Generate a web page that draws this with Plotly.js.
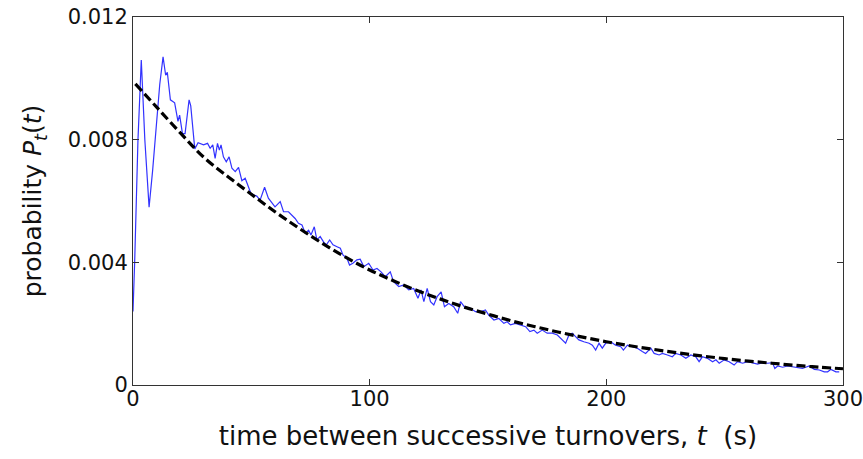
<!DOCTYPE html>
<html>
<head>
<meta charset="utf-8">
<script src="https://cdn.plot.ly/plotly-3.0.1.min.js"></script>
<style>html,body{margin:0;padding:0;background:#fff;}#chart{width:863px;height:459px;}</style>
</head>
<body>
<div id="chart"></div>
<script>
// Measured distribution (blue)
const tData = [0, 0.7, 2.1, 3.5, 5.0, 6.8, 8.3, 9.9, 11.3, 12.7, 13.8, 14.5, 15.8, 17.6, 19.0, 19.7, 20.9, 22.0, 23.7, 24.4, 26.1, 27.5,
  28.9, 29.8, 31.5, 32.6, 33.7, 34.7, 35.7, 36.5, 37.2, 38.2, 39.4, 40.6, 41.8, 43.2, 44.6, 46.0, 47.4, 48.8, 49.8, 50.9, 52.3, 53.7,
  55.6, 57.2, 58.3, 60.0, 62.2, 63.6, 65.7, 67.1, 68.5, 69.9, 71.4, 72.8, 74.2, 75.2, 76.6, 77.7, 79.1, 80.5, 81.7, 83.1, 84.5, 86.2,
  87.6, 88.7, 90.4, 91.5, 92.9, 94.6, 96.0, 97.5, 99.6, 101.4, 103.1, 104.8, 106.6, 108.7, 110.1, 112.3, 114.4, 116.5, 118.6, 120.4,
  121.7, 122.9, 124.3, 125.7, 127.1, 128.5, 130.2, 131.6, 133.4, 135.5, 137.2, 138.4, 140.5, 142.6, 144.7, 146.8, 148.9, 150.3, 152.5,
  154.6, 156.7, 158.1, 159.5, 161.6, 163.8, 165.9, 167.7, 169.4, 170.8, 172.9, 175.0, 177.2, 179.3, 181.4, 182.8, 184.2, 185.6, 187.0,
  188.4, 190.5, 192.7, 194.1, 195.5, 196.9, 198.3, 199.7, 201.8, 203.9, 206.1, 207.2, 208.9, 211.0, 213.1, 215.2, 216.6, 218.8, 220.2,
  222.3, 223.7, 225.8, 227.9, 229.3, 231.5, 233.6, 235.7, 237.8, 239.2, 240.6, 242.7, 244.9, 246.3, 247.7, 249.8, 251.9, 254.0, 255.4,
  257.6, 259.7, 261.8, 263.9, 266.0, 268.1, 270.2, 271.2, 272.4, 274.5, 276.6, 278.7, 280.8, 282.9, 285.7, 287.9, 290.0, 292.1, 293.5,
  294.9, 297.0, 298.4];
const pData = [0.0024, 0.0040, 0.0080, 0.0106, 0.0080, 0.0058, 0.0070, 0.0085, 0.0098, 0.0107, 0.0101, 0.0102, 0.0093, 0.0092, 0.0086, 0.0088, 0.0082, 0.0082, 0.0093, 0.0091, 0.0077, 0.0079,
  0.00785, 0.00783, 0.00788, 0.00772, 0.00783, 0.00739, 0.00788, 0.00766, 0.00783, 0.00744, 0.00728, 0.00744, 0.00707, 0.00696, 0.00710, 0.00666, 0.00674, 0.00641, 0.00625, 0.00620, 0.00616, 0.00603,
  0.00645, 0.00609, 0.00598, 0.00581, 0.00598, 0.00565, 0.00565, 0.00554, 0.00543, 0.00527, 0.00522, 0.00495, 0.00505, 0.00489, 0.00516, 0.00473, 0.00484, 0.00467, 0.00457, 0.00473, 0.00457, 0.00451,
  0.00446, 0.00424, 0.00413, 0.00391, 0.00397, 0.00408, 0.00410, 0.00386, 0.00397, 0.00375, 0.00380, 0.00369, 0.00353, 0.00369, 0.00337, 0.00321, 0.00326, 0.00310, 0.00315, 0.00283,
  0.00310, 0.00272, 0.00315, 0.00272, 0.00261, 0.00288, 0.00304, 0.00255, 0.00266, 0.00255, 0.00234, 0.00272, 0.00250, 0.00250, 0.00239, 0.00239, 0.00245, 0.00228, 0.00212,
  0.00217, 0.00201, 0.00206, 0.00196, 0.00201, 0.00196, 0.00190, 0.00174, 0.00179, 0.00169, 0.00179, 0.00169, 0.00169, 0.00163, 0.00147, 0.00136, 0.00163, 0.00169, 0.00158,
  0.00147, 0.00141, 0.00136, 0.00130, 0.00114, 0.00136, 0.00120, 0.00136, 0.00141, 0.00130, 0.00125, 0.00114, 0.00130, 0.00125, 0.00120, 0.00109, 0.00103, 0.00120, 0.00103,
  0.00098, 0.00103, 0.00098, 0.00092, 0.00103, 0.00098, 0.00087, 0.00098, 0.00092, 0.00076, 0.00092, 0.00087, 0.00076, 0.00082, 0.00071, 0.00082, 0.00076, 0.00065, 0.00076,
  0.00071, 0.00076, 0.00071, 0.00068, 0.00073, 0.00071, 0.00073, 0.00054, 0.00062, 0.00058, 0.00062, 0.00060, 0.00058, 0.00054, 0.00062, 0.00051, 0.00049, 0.00043, 0.00043,
  0.00051, 0.00043, 0.00043];

// Fitted curve (black dashed)
const tFit = [1, 10, 20, 30, 40, 50, 60, 70, 80, 90, 100, 110, 120, 130, 140, 150, 160, 170, 180, 190, 200, 210, 220, 230, 240, 250, 260, 270, 280, 290, 300];
const pFit = [0.00982, 0.00906, 0.00822, 0.00742, 0.00680, 0.00622, 0.00565, 0.00512, 0.00462, 0.00416, 0.00375, 0.00340, 0.00308, 0.00280, 0.00254, 0.00231, 0.00209, 0.00190, 0.00172, 0.00156, 0.00141, 0.00128, 0.00116, 0.00105, 0.00095, 0.00086, 0.00078, 0.00071, 0.00064, 0.00058, 0.00053];

const xTicks = [0, 100, 200, 300];
const xTickText = ['0', '100', '200', '300'];
const yTicks = [0, 0.004, 0.008, 0.012];
const yTickText = ['0', '0.004', '0.008', '0.012'];

const FONT = 'DejaVu Sans, Arial, sans-serif';

const traces = [
  {x: tData, y: pData, type: 'scatter', mode: 'lines', line: {color: 'rgb(50,50,255)', width: 1.2}, hoverinfo: 'skip'},
  {x: tFit, y: pFit, type: 'scatter', mode: 'lines', line: {color: '#000', width: 3.2, dash: '9px,4px', shape: 'spline'}, hoverinfo: 'skip'}
];

const axisCommon = {
  showgrid: false, zeroline: false, showline: true, linecolor: '#333', linewidth: 1,
  mirror: 'ticks', ticks: 'inside', ticklen: 6, tickwidth: 1, tickcolor: '#333',
  ticklabeloverflow: 'allow',
  tickfont: {family: FONT, size: 21, color: '#111'}
};

const layout = {
  width: 863, height: 459,
  margin: {l: 133, r: 20, t: 17, b: 74},
  paper_bgcolor: '#fff', plot_bgcolor: '#fff',
  showlegend: false,
  xaxis: Object.assign({}, axisCommon, {
    range: [0, 300], tickvals: xTicks, ticktext: xTickText,
    ticklabelstandoff: -5,
    title: {text: 'time between successive turnovers, <i>t</i>  (s)', font: {family: FONT, size: 26, color: '#111'}, standoff: 16}
  }),
  yaxis: Object.assign({}, axisCommon, {
    range: [0, 0.012], tickvals: yTicks, ticktext: yTickText,
    title: {text: 'probability <i>P</i><sub><i>t</i></sub>(<i>t</i>)', font: {family: FONT, size: 25, color: '#111'}, standoff: 18}
  })
};

Plotly.newPlot('chart', traces, layout, {staticPlot: true, displayModeBar: false});
</script>
</body>
</html>
